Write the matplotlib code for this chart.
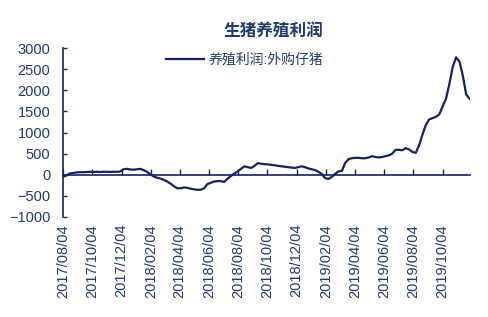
import matplotlib
matplotlib.use("Agg")
import matplotlib.pyplot as plt
import matplotlib.dates as mdates
import pandas as pd

plt.rcParams['font.family'] = ['Liberation Sans', 'Noto Sans CJK SC']

# weekly profit, yuan/head
start = "2017-08-04"
profit = [
    -50, -20, 30, 40, 55, 60, 60, 65, 70, 65,
    70, 65, 70, 70, 65, 70, 70, 75, 130, 140,
    125, 120, 130, 140, 110, 70, 10, -40, -70, -90,
    -120, -160, -210, -270, -320, -320, -300, -310, -330, -345,
    -355, -355, -320, -220, -190, -160, -150, -150, -170, -90,
    -30, 30, 80, 140, 200, 180, 160, 210, 275, 260,
    250, 245, 235, 225, 210, 200, 190, 180, 170, 160,
    180, 200, 180, 150, 130, 110, 70, 20, -80, -100,
    -50, 20, 80, 90, 280, 370, 390, 400, 400, 390,
    390, 410, 440, 420, 410, 420, 440, 460, 500, 590,
    590, 580, 630, 600, 540, 520, 700, 950, 1180, 1310,
    1340, 1370, 1430, 1620, 1800, 2150, 2550, 2780, 2680, 2350,
    1900, 1800,
]
dates = pd.date_range(start, periods=len(profit), freq="7D")
tick_dates = pd.date_range("2017-08-01", "2019-10-01", freq="2MS") + pd.Timedelta(days=3)
yticks = [-1000, -500, 0, 500, 1000, 1500, 2000, 2500, 3000]

line_color = "#13235B"
text_color = "#1F3A6E"

fig = plt.figure(figsize=(4.88, 3.17), dpi=100)
ax = fig.add_axes([63 / 488, 1 - 217 / 317, (470 - 63) / 488, (217 - 48) / 317])

ax.plot(dates, profit, color=line_color, lw=1.6, label="养殖利润:外购仔猪")

ax.set_ylim(-1000, 3000)
ax.set_xlim(pd.Timestamp("2017-08-04"), pd.Timestamp("2019-11-30"))
ax.set_yticks(yticks)

for s in ["top", "right"]:
    ax.spines[s].set_visible(False)
ax.spines["left"].set_color(line_color)
ax.spines["left"].set_linewidth(1.2)
ax.spines["bottom"].set_position(("data", 0))
ax.spines["bottom"].set_color(line_color)
ax.spines["bottom"].set_linewidth(1.2)

ax.tick_params(axis="y", direction="in", length=3, width=1, colors=line_color,
               labelcolor=text_color, labelsize=10.5, pad=9)
ax.set_xticks(tick_dates)
ax.tick_params(axis="x", direction="in", length=4, width=1, colors=line_color,
               labelbottom=False)

sec = ax.secondary_xaxis("bottom")
sec.set_xticks(tick_dates)
sec.xaxis.set_major_formatter(mdates.DateFormatter("%Y/%m/%d"))
sec.tick_params(axis="x", length=0, labelsize=10.5, labelcolor=text_color,
                labelrotation=90, pad=5)
sec.spines["bottom"].set_visible(False)

fig.text(273 / 488, 1 - 32 / 317, "生猪养殖利润", ha="center", va="center",
         fontsize=12, fontweight="bold", color=text_color)

ax.legend(loc="center left", bbox_to_anchor=(166 / 488, 1 - 60 / 317),
          bbox_transform=fig.transFigure, frameon=False, fontsize=10,
          handlelength=2.7, handletextpad=0.35, borderpad=0, borderaxespad=0,
          labelcolor=text_color)

fig.savefig("out.png", dpi=100)
